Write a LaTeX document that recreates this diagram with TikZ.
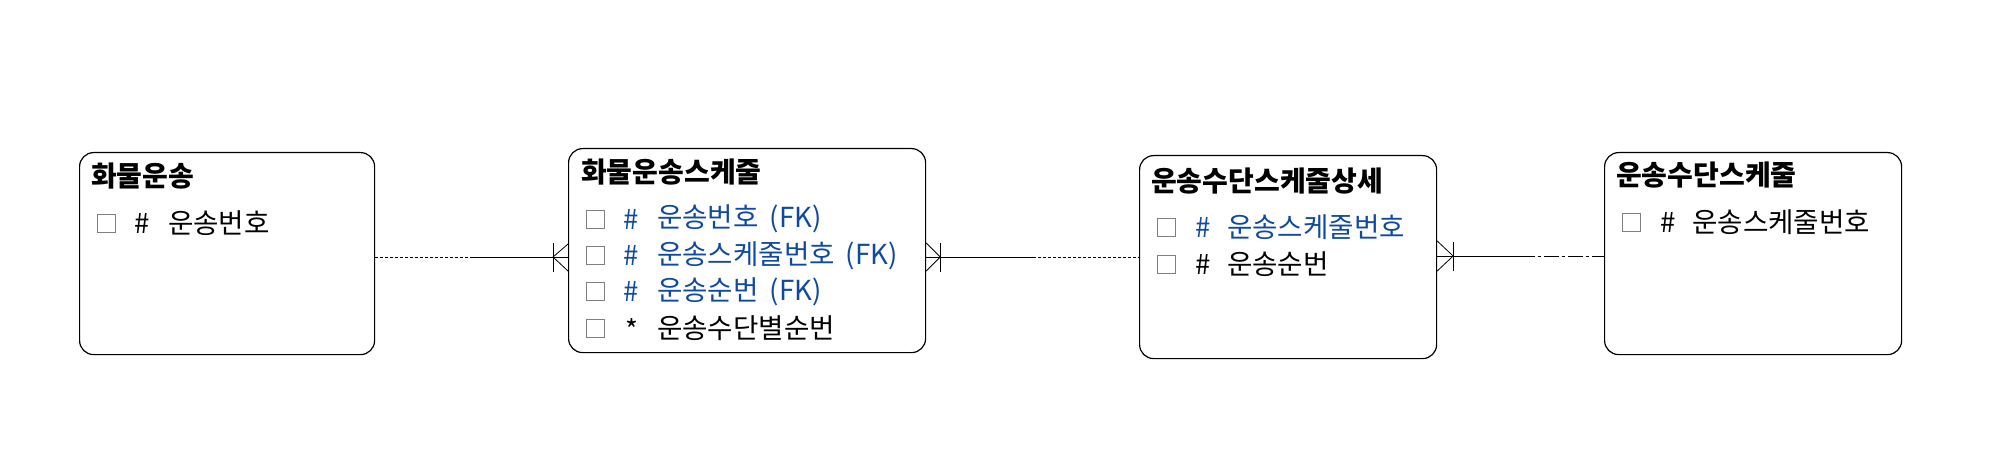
\documentclass[tikz,border=0pt]{standalone}
\usepackage{fontspec}
\setmainfont{Noto Sans CJK KR}
\usetikzlibrary{positioning,calc}
\definecolor{fkblue}{RGB}{16,74,160}
\definecolor{boxgray}{RGB}{128,128,128}

\begin{document}
\begin{tikzpicture}[
    x=1pt, y=-1pt,
    entity/.style={draw, line width=1.2pt, rounded corners=14pt, anchor=north west, inner sep=0pt},
    title/.style={anchor=west, inner sep=0pt, font=\fontsize{28}{32}\selectfont\bfseries},
    attr/.style={anchor=west, inner sep=0pt, font=\fontsize{27.6}{32}\selectfont},
    chk/.style={draw=boxgray, line width=1pt, minimum size=18pt, inner sep=0pt},
    rel/.style={line width=1pt},
    foot/.style={line width=0.8pt}
  ]
    \useasboundingbox (0,0) rectangle (1998,476);

    % entities
    \node[entity, minimum width=295pt, minimum height=202pt] (hw) at (79,152) {};
    \node[entity, minimum width=357pt, minimum height=204pt] (hs) at (568,148) {};
    \node[entity, minimum width=297pt, minimum height=203pt] (ud) at (1139,155) {};
    \node[entity, minimum width=297pt, minimum height=202pt] (us) at (1604,152) {};

    % 화물운송
    \node[title] (hwT) at ($(hw.north west)+(12,24)$) {화물운송};
    \node[chk] (hwC1) at ($(hw.north west)+(27,71)$) {};
    \node[attr] (hwH1) at ($(hw.north west)+(55,71)$) {\#};
    \node[attr] (hwA1) at ($(hw.north west)+(89,71)$) {운송번호};

    % 화물운송스케줄
    \node[title] (hsT) at ($(hs.north west)+(13,24)$) {화물운송스케줄};
    \foreach \t [count=\i] in {운송번호, 운송스케줄번호, 운송순번} {
      \node[chk] (hsC\i) at ($(hs.north west)+(27,71+36.3*\i-36.3)$) {};
      \node[attr, fkblue] (hsH\i) at ($(hs.north west)+(55,71+36.3*\i-36.3)$) {\#};
      \node[attr, fkblue] (hsA\i) at ($(hs.north west)+(89,71+36.3*\i-36.3)$) {\t\hspace{11pt}(FK)};
    }
    \node[chk] (hsC4) at ($(hs.north west)+(27,180)$) {};
    \node[attr] (hsH4) at ($(hs.north west)+(57,182)$) {*};
    \node[attr] (hsA4) at ($(hs.north west)+(89,180)$) {운송수단별순번};

    % 운송수단스케줄상세
    \node[title] (udT) at ($(ud.north west)+(12,26)$) {운송수단스케줄상세};
    \node[chk] (udC1) at ($(ud.north west)+(27,72)$) {};
    \node[attr, fkblue] (udH1) at ($(ud.north west)+(56,72)$) {\#};
    \node[attr, fkblue] (udA1) at ($(ud.north west)+(88,72)$) {운송스케줄번호};
    \node[chk] (udC2) at ($(ud.north west)+(27,109)$) {};
    \node[attr] (udH2) at ($(ud.north west)+(56,109)$) {\#};
    \node[attr] (udA2) at ($(ud.north west)+(88,109)$) {운송순번};

    % 운송수단스케줄
    \node[title] (usT) at ($(us.north west)+(12,23)$) {운송수단스케줄};
    \node[chk] (usC1) at ($(us.north west)+(27,70)$) {};
    \node[attr] (usH1) at ($(us.north west)+(56,70)$) {\#};
    \node[attr] (usA1) at ($(us.north west)+(88,70)$) {운송스케줄번호};

    % relations
    \coordinate (r1) at (0,257);
    \coordinate (r3) at (0,256);
    \coordinate (m1) at (470,257);
    \coordinate (m2) at (1033,257);
    \coordinate (m3) at (1520,256);

    \draw[rel, dash pattern=on 3pt off 2pt] (hw.east |- r1) -- (m1);
    \draw[rel] (m1) -- (hs.west |- r1);
    \draw[foot] ($(hs.west |- r1)+(-15,-14)$) -- ++(0,29);
    \draw[foot] ($(hs.west |- r1)+(0,-13)$) -- ($(hs.west |- r1)+(-15,0)$) -- ($(hs.west |- r1)+(0,14)$);

    \draw[rel] (hs.east |- r1) -- (m2);
    \draw[rel, dash pattern=on 3pt off 2pt] (m2) -- (ud.west |- r1);
    \draw[foot] ($(hs.east |- r1)+(14,-14)$) -- ++(0,29);
    \draw[foot] ($(hs.east |- r1)+(0,-14)$) -- ($(hs.east |- r1)+(14,0)$) -- ($(hs.east |- r1)+(0,14)$);

    \draw[rel] (ud.east |- r3) -- (m3);
    \draw[rel, dash pattern=on 15pt off 3pt on 3pt off 3pt] (m3) -- (us.west |- r3);
    \draw[foot] ($(ud.east |- r3)+(16,-14)$) -- ++(0,29);
    \draw[foot] ($(ud.east |- r3)+(0,-15)$) -- ($(ud.east |- r3)+(16,0)$) -- ($(ud.east |- r3)+(0,15)$);
  \end{tikzpicture}
\end{document}
